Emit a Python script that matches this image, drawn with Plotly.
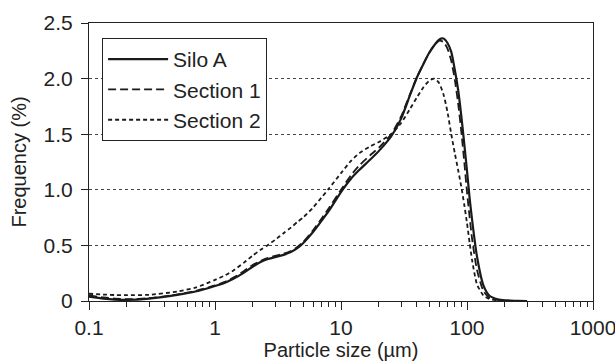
import plotly.graph_objects as go

size_um = [0.1, 0.13, 0.16, 0.2, 0.3, 0.5, 0.7, 1, 1.2, 1.4, 1.7, 2, 2.3, 2.6, 3, 3.5, 4, 4.5, 5, 6, 7, 8,
           10, 12, 14, 17, 20, 25, 30, 35, 40, 45, 50, 55, 60, 65, 70, 75, 80, 85, 90, 95, 100, 105, 110,
           120, 135, 150, 175, 200, 250, 300]

silo_a = [0.04, 0.022, 0.013, 0.01, 0.022, 0.055, 0.085, 0.135, 0.165, 0.2, 0.255, 0.31, 0.35, 0.375,
          0.395, 0.415, 0.44, 0.475, 0.52, 0.62, 0.72, 0.81, 0.98, 1.10, 1.18, 1.27, 1.35, 1.48, 1.64,
          1.84, 2.01, 2.13, 2.23, 2.30, 2.35, 2.36, 2.32, 2.24, 2.08, 1.90, 1.67, 1.42, 1.17, 0.92, 0.72,
          0.40, 0.14, 0.05, 0.015, 0.005, 0.002, 0.0]

section_1 = [0.05, 0.032, 0.022, 0.016, 0.025, 0.058, 0.09, 0.14, 0.172, 0.21, 0.27, 0.325, 0.36, 0.385,
             0.405, 0.425, 0.45, 0.485, 0.53, 0.635, 0.74, 0.835, 1.0, 1.13, 1.22, 1.31, 1.38, 1.50, 1.66,
             1.85, 2.01, 2.13, 2.23, 2.30, 2.34, 2.33, 2.27, 2.16, 1.99, 1.78, 1.53, 1.26, 0.98, 0.75, 0.55,
             0.28, 0.09, 0.03, 0.01, 0.004, 0.001, 0.0]

section_2 = [0.065, 0.058, 0.054, 0.052, 0.056, 0.085, 0.12, 0.19, 0.23, 0.275, 0.345, 0.41, 0.46, 0.5,
             0.55, 0.61, 0.66, 0.71, 0.75, 0.84, 0.93, 1.01, 1.15, 1.26, 1.33, 1.39, 1.43, 1.50, 1.60,
             1.72, 1.83, 1.92, 1.98, 2.00, 1.96, 1.86, 1.70, 1.50, 1.33, 1.18, 1.03, 0.87, 0.70, 0.52, 0.36,
             0.15, 0.05, 0.018, 0.006, 0.002, 0.0, 0.0]

x_tickvals = [0.1, 1, 10, 100, 1000]
x_ticktext = ["0.1", "1", "10", "100", "1000"]
y_tickvals = [0, 0.5, 1.0, 1.5, 2.0, 2.5]
y_ticktext = ["0", "0.5", "1.0", "1.5", "2.0", "2.5"]

FONT = "Liberation Sans, Arial, sans-serif"
INK = "#1a1a1a"

fig = go.Figure()
fig.add_trace(go.Scatter(x=size_um, y=silo_a, name="Silo A", mode="lines",
                         line=dict(color=INK, width=2.2, shape="spline", smoothing=0.6)))
fig.add_trace(go.Scatter(x=size_um, y=section_1, name="Section 1", mode="lines",
                         line=dict(color=INK, width=1.8, dash="8px,4px", shape="spline", smoothing=0.6)))
fig.add_trace(go.Scatter(x=size_um, y=section_2, name="Section 2", mode="lines",
                         line=dict(color=INK, width=1.8, dash="4px,3px", shape="spline", smoothing=0.6)))

fig.update_layout(
    width=615, height=364,
    margin=dict(l=89, r=22, t=23, b=63),
    paper_bgcolor="white", plot_bgcolor="white",
    font=dict(family=FONT, size=21, color="#222222"),
    showlegend=True,
    legend=dict(x=0.026, y=0.946, xanchor="left", yanchor="top",
                bgcolor="white", bordercolor="#222222", borderwidth=1,
                font=dict(size=21), itemwidth=60, tracegroupgap=0),
)
fig.update_xaxes(
    type="log", range=[-1, 3], automargin=False,
    tickvals=x_tickvals, ticktext=x_ticktext, ticklabeloverflow="allow",
    ticks="outside", ticklen=8, tickcolor="#222222",
    tickfont=dict(size=21),
    minor=dict(ticks="outside", ticklen=5, dtick="D1", tickcolor="#222222", showgrid=False),
    showline=True, linecolor="#222222", linewidth=1, mirror=True,
    showgrid=False, zeroline=False,
    title=dict(text="Particle size (µm)", standoff=4, font=dict(size=20)),
)
fig.update_yaxes(
    range=[0, 2.5], automargin=False,
    tickvals=y_tickvals, ticktext=y_ticktext,
    ticks="outside", ticklen=7, tickcolor="#222222",
    tickfont=dict(size=21), ticklabelstandoff=4,
    showline=True, linecolor="#222222", linewidth=1, mirror=True,
    showgrid=True, gridcolor="#444444", griddash="dot", gridwidth=1,
    zeroline=False,
    title=dict(text="Frequency (%)", standoff=11, font=dict(size=20)),
)

fig.write_html("out.html", config={"displayModeBar": False},
               post_script="document.body.style.margin='0';document.body.style.overflow='hidden';")
